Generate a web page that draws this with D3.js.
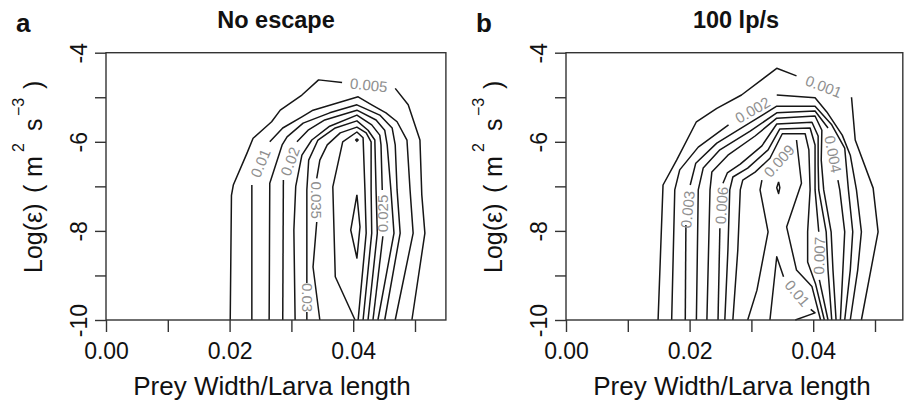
<!DOCTYPE html>
<html><head><meta charset="utf-8">
<script src="https://cdn.jsdelivr.net/npm/d3@7"></script>
<style>
body{margin:0;background:#fff;}
svg{display:block;font-family:"Liberation Sans",Arial,Helvetica,sans-serif;}
</style>
</head><body>
<svg id="c" width="910" height="404"></svg>
<script>
// ---- axes ----
const xTicks=[0,0.01,0.02,0.03,0.04,0.05];
const xTickLabels=["0.00","","0.02","","0.04",""];
const yTicks=[-4,-5,-6,-7,-8,-9,-10];
const yTickLabels=["-4","","-6","","-8","","-10"];
const panelTitles=["No escape","100 lp/s"];
const panelLetters=["a","b"];
const xExtent=[0.055,0.0545];

// ---- panel a : contour lines (x = prey width / larva length, y = log eps) ----
const a005=[[[0.0201,-10],[0.0203,-7.2],[0.0206,-6.97],[0.0228,-6.26],[0.0238,-5.92],[0.0268,-5.55],[0.0282,-5.29],[0.0317,-4.95],[0.0344,-4.61],[0.0382,-4.67]],
            [[0.0468,-4.80],[0.0489,-5.17],[0.0508,-5.96],[0.0511,-7.19],[0.0516,-8.05],[0.0495,-10]]];
const a010=[[[0.0236,-10],[0.0236,-6.97]],
            [[0.0265,-6.0],[0.0286,-5.69],[0.0317,-5.44],[0.0335,-5.29],[0.0408,-4.99],[0.043,-5.17],[0.0453,-5.35],[0.0471,-5.55],[0.0487,-5.96],[0.0492,-7.08],[0.0497,-8.05],[0.0468,-10]]];
const a015=[[[0.0264,-10],[0.0265,-6.93],[0.0285,-6.07],[0.0293,-5.89],[0.0319,-5.58],[0.0362,-5.35],[0.0406,-5.17],[0.0443,-5.40],[0.0463,-5.69],[0.0468,-6.07],[0.0471,-7.08],[0.0476,-8.05],[0.0451,-10]]];
const a020=[[[0.0286,-10],[0.0287,-6.86]],
            [[0.0309,-6.0],[0.0327,-5.74],[0.0354,-5.51],[0.0406,-5.29],[0.0437,-5.51],[0.0451,-5.74],[0.0455,-6.07],[0.0461,-7.08],[0.0466,-8.05],[0.044,-10]]];
const a025=[[[0.0306,-10],[0.0304,-7.98],[0.0307,-7.0],[0.0317,-6.30],[0.0333,-5.96],[0.0362,-5.65],[0.0406,-5.40],[0.043,-5.62],[0.0443,-5.85],[0.0445,-6.07],[0.0447,-7.08]],
            [[0.0448,-8.12],[0.0432,-10]]];
const a030=[[[0.0325,-10],[0.0325,-9.82]],
            [[0.0325,-9.17],[0.0325,-7.08],[0.0328,-6.41],[0.0343,-5.96],[0.0371,-5.69],[0.0406,-5.53],[0.0424,-5.74],[0.0435,-5.96],[0.0437,-7.08],[0.0439,-8.05],[0.0424,-10]]];
const a035=[[[0.0346,-10],[0.0335,-8.81],[0.0341,-7.80]],
            [[0.0341,-6.82],[0.0346,-6.41],[0.0358,-6.07],[0.0379,-5.80],[0.0406,-5.67],[0.0421,-5.80],[0.0429,-6.0],[0.0429,-7.08],[0.043,-8.05],[0.0416,-10]]];
const a040=[[[0.0403,-10],[0.0371,-9.03],[0.0367,-7.01],[0.0383,-6.0],[0.0406,-5.78],[0.0416,-5.91],[0.0419,-7.08],[0.0421,-8.05],[0.0408,-10]]];
const a045=[[[0.0406,-7.19],[0.0411,-7.91],[0.0406,-8.61],[0.0396,-7.98],[0.0406,-7.19]],
            [[0.0406,-5.93],[0.0408,-5.96],[0.0406,-5.99],[0.0404,-5.96],[0.0406,-5.93]]];
const aLabelText=["0.005","0.01","0.02","0.025","0.03","0.035"];
const aLabelPos=[[0.0425,-4.73],[0.025,-6.48],[0.0298,-6.44],[0.0448,-7.61],[0.0325,-9.495],[0.0341,-7.31]];
const aLabelAngle=[6,-67,-70,-90,90,90];

// ---- panel b : contour lines ----
const b001=[[[0.0149,-10],[0.0157,-6.97],[0.0179,-6.41],[0.0211,-5.55],[0.0244,-5.25],[0.0284,-4.95],[0.0341,-4.35],[0.0373,-4.52]],
            [[0.0462,-5.0],[0.0468,-5.96],[0.0497,-7.04],[0.0505,-8.02],[0.0478,-10]]];
const b002=[[[0.0171,-10],[0.0176,-7.08],[0.0184,-6.63],[0.0214,-6.12],[0.0263,-5.62]],
            [[0.0341,-4.95],[0.0403,-5.01],[0.0422,-5.33],[0.0447,-5.85],[0.046,-6.30],[0.047,-7.08],[0.0478,-8.02],[0.0472,-8.88],[0.046,-10]]];
const b003=[[[0.0193,-10],[0.0194,-7.87]],
            [[0.0201,-6.97],[0.021,-6.48],[0.0244,-6.03],[0.0292,-5.62],[0.0341,-5.20],[0.0403,-5.20],[0.043,-5.62],[0.0451,-6.14],[0.0457,-7.08],[0.0464,-8.02],[0.046,-8.88],[0.0451,-10]]];
const b004=[[[0.0211,-10],[0.0214,-7.08],[0.0222,-6.59],[0.0249,-6.18],[0.0298,-5.76],[0.0341,-5.35],[0.0403,-5.31],[0.0424,-5.69]],
            [[0.044,-6.86],[0.0443,-7.08],[0.0451,-8.02],[0.0448,-8.88],[0.0444,-10]]];
const b005=[[[0.0228,-10],[0.0233,-7.08],[0.0236,-6.68],[0.0262,-6.30],[0.0306,-5.87],[0.0341,-5.47],[0.0403,-5.42],[0.0414,-5.74],[0.0413,-6.41],[0.0417,-7.08],[0.0429,-8.02],[0.0432,-8.88],[0.0437,-10]]];
const b006=[[[0.0246,-10],[0.0249,-7.94]],
            [[0.0254,-6.93],[0.0261,-6.70],[0.0282,-6.50],[0.0317,-6.09],[0.0341,-5.60],[0.0398,-5.56],[0.0408,-5.87],[0.0408,-6.52],[0.0409,-7.08],[0.0421,-8.02],[0.0424,-8.88],[0.043,-10]]];
const b007=[[[0.0257,-10],[0.0262,-8.43],[0.0265,-7.08],[0.027,-6.79],[0.0294,-6.59],[0.0327,-6.18],[0.0346,-5.71],[0.0395,-5.69],[0.0403,-6.07],[0.0403,-7.08],[0.0409,-8.02]],
            [[0.041,-9.1],[0.0424,-10]]];
const b008=[[[0.027,-10],[0.0278,-8.43],[0.0282,-7.08],[0.0286,-6.86],[0.0306,-6.68],[0.033,-6.37],[0.035,-5.82],[0.0387,-5.82],[0.0393,-6.18],[0.0395,-7.08],[0.0391,-8.02],[0.0391,-8.70],[0.0404,-9.2],[0.0418,-10]]];
const b009=[[[0.0294,-10],[0.0309,-9.33],[0.0327,-8.02],[0.0314,-7.08],[0.0317,-6.86]],
            [[0.0373,-5.96],[0.0381,-6.93],[0.0357,-7.91],[0.0373,-8.88],[0.0398,-9.25],[0.0412,-10]]];
const b010=[[[0.0344,-6.90],[0.0346,-7.03],[0.0344,-7.16],[0.0341,-7.03],[0.0344,-6.90]],
            [[0.033,-10],[0.0341,-8.58],[0.0352,-9.03]],
            [[0.0396,-9.76],[0.0403,-9.84],[0.0371,-10]]];
const bLabelText=["0.001","0.002","0.003","0.004","0.006","0.007","0.009","0.01"];
const bLabelPos=[[0.0417,-4.76],[0.0302,-5.29],[0.0197,-7.52],[0.0432,-6.28],[0.0252,-7.43],[0.041,-8.56],[0.0345,-6.43],[0.0374,-9.40]];
const bLabelAngle=[21,-30,-84,79,-86,-88,-48,50];

// ---- layout ----
const svg=d3.select("#c");
const TOP=52.7, PW=339.9, PH=267.3;
const panelLeft=[106,566];
const FONT='"Liberation Sans",Arial,Helvetica,sans-serif';

function drawPanel(i, contours, labTxt, labPos, labAng){
  const g=svg.append("g").attr("transform",`translate(${panelLeft[i]},${TOP})`);
  const x=d3.scaleLinear().domain([0,0.055]).range([0,PW]);
  const y=d3.scaleLinear().domain([-10,-4]).range([PH,0]);
  const line=d3.line().x(d=>x(d[0])).y(d=>y(d[1]));

  contours.forEach(c=>c.forEach(seg=>{
    g.append("path").attr("d",line(seg)).attr("fill","none")
     .attr("stroke","#161616").attr("stroke-width",1.5).attr("stroke-linejoin","round");
  }));

  labTxt.forEach((t,k)=>{
    g.append("text").attr("transform",`translate(${x(labPos[k][0])},${y(labPos[k][1])}) rotate(${labAng[k]})`)
     .attr("text-anchor","middle").attr("dy","0.35em")
     .style("font-size","15px").style("fill","#8f8f8f").text(t);
  });

  // box
  g.append("rect").attr("x",0).attr("y",0).attr("width",x(xExtent[i])).attr("height",PH)
   .attr("fill","none").attr("stroke","#333").attr("stroke-width",1.4);

  // y axis
  const ya=g.append("g").call(d3.axisLeft(y).tickValues(yTicks).tickSize(11).tickSizeOuter(0)
        .tickFormat((d,k)=>yTickLabels[k]));
  ya.attr("font-family",null).attr("font-size",null);
  ya.select(".domain").remove();
  ya.selectAll("line").attr("stroke","#333").attr("stroke-width",1.4);
  ya.selectAll("text").attr("x",0).attr("y",0).attr("dy",0).attr("text-anchor","middle")
    .attr("transform","translate(-19,0) rotate(-90)")
    .style("font-size","23px").style("fill","#111").style("font-family",FONT);

  // x axis
  const xa=g.append("g").attr("transform",`translate(0,${PH})`)
    .call(d3.axisBottom(x).tickValues(xTicks).tickSize(12).tickSizeOuter(0)
        .tickFormat((d,k)=>xTickLabels[k]));
  xa.attr("font-family",null).attr("font-size",null);
  xa.select(".domain").remove();
  xa.selectAll("line").attr("stroke","#333").attr("stroke-width",1.4);
  xa.selectAll("text").attr("y",39).attr("dy",0)
    .style("font-size","23px").style("fill","#111").style("font-family",FONT);

  // x title
  g.append("text").attr("x",166).attr("y",342.3).attr("text-anchor","middle")
   .style("font-size","26px").style("fill","#111").text("Prey Width/Larva length");

  // y title
  const yt=g.append("text").attr("transform",`translate(-64,${273-TOP}) rotate(-90)`)
     .style("font-size","25px").style("fill","#111");
  yt.append("tspan").attr("x",0).text("Log(ε)");
  yt.append("tspan").attr("x",80).text("(");
  yt.append("tspan").attr("x",96).text("m");
  yt.append("tspan").attr("x",121).attr("dy",-18).style("font-size","16px").text("2");
  yt.append("tspan").attr("x",142).attr("dy",18).text("s");
  yt.append("tspan").attr("x",157).attr("dy",-18).style("font-size","16px").text("\u22123");
  yt.append("tspan").attr("x",184).attr("dy",18).text(")");

  // panel title and letter
  g.append("text").attr("x",170).attr("y",28-TOP).attr("text-anchor","middle")
   .style("font-size","23.5px").style("font-weight","bold").style("fill","#111").text(panelTitles[i]);
  g.append("text").attr("x",-90).attr("y",32-TOP)
   .style("font-size","26px").style("font-weight","bold").style("fill","#111").text(panelLetters[i]);
}

drawPanel(0,[a005,a010,a015,a020,a025,a030,a035,a040,a045],aLabelText,aLabelPos,aLabelAngle);
drawPanel(1,[b001,b002,b003,b004,b005,b006,b007,b008,b009,b010],bLabelText,bLabelPos,bLabelAngle);
</script>
</body></html>
